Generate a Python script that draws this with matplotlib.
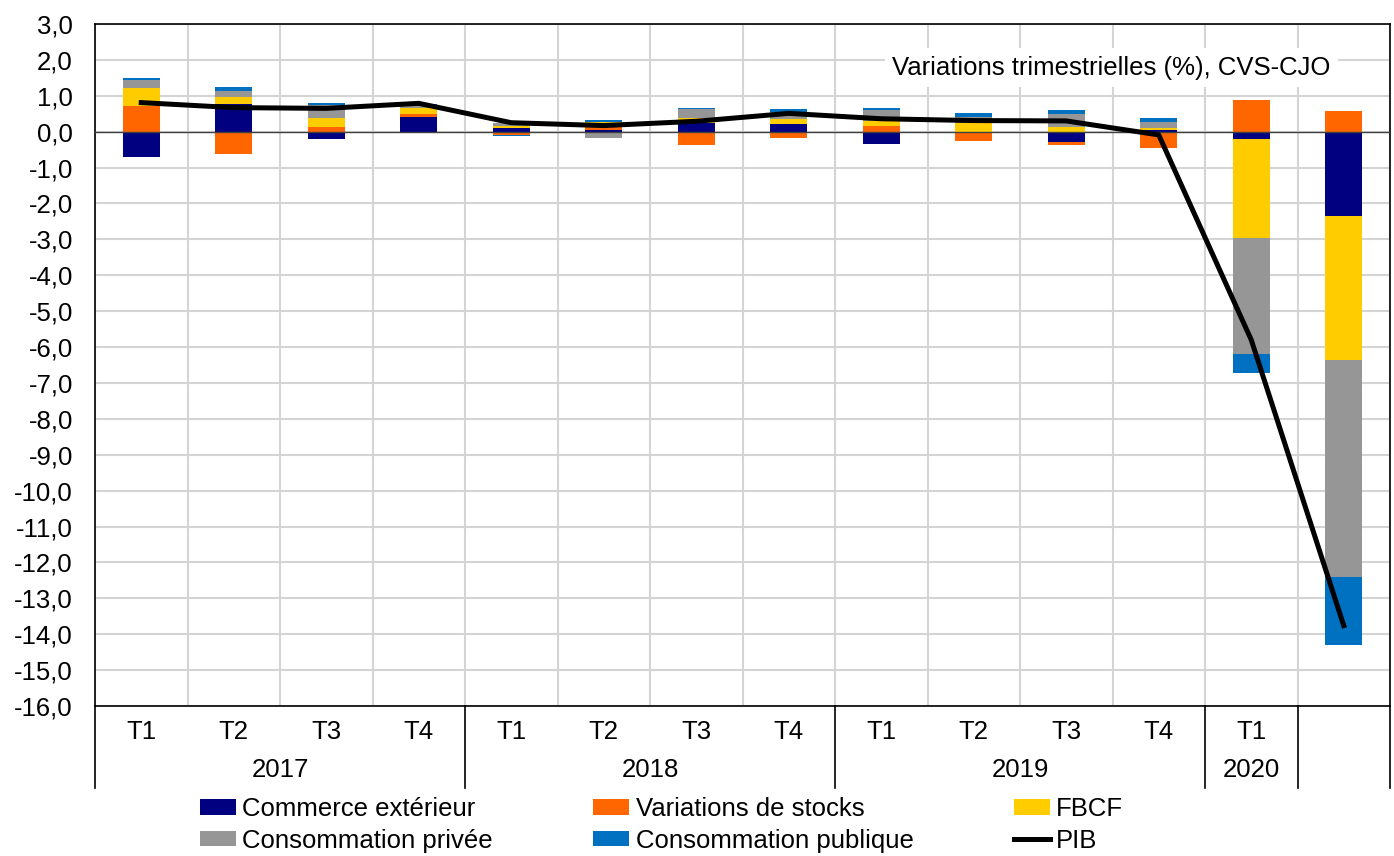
import matplotlib.pyplot as plt
import matplotlib.transforms as mtransforms
from matplotlib.patches import Patch
from matplotlib.lines import Line2D
import numpy as np

plt.rcParams['font.family'] = ['Liberation Sans', 'DejaVu Sans']

# données (contributions à la croissance, points de %)
trimestres = ['T1', 'T2', 'T3', 'T4', 'T1', 'T2', 'T3', 'T4',
              'T1', 'T2', 'T3', 'T4', 'T1', '']
annees = ['2017', '2018', '2019', '2020']
annees_nb = [4, 4, 4, 1]

commerce = [-0.70, 0.77, -0.19, 0.40, 0.10, 0.05, 0.23, 0.21, -0.35, 0.00, -0.28, 0.05, -0.19, -2.36]
stocks = [0.72, -0.63, 0.14, 0.09, -0.09, 0.07, -0.38, -0.18, 0.17, -0.26, -0.10, -0.46, 0.88, 0.57]
fbcf = [0.51, 0.20, 0.23, 0.16, 0.05, 0.15, 0.14, 0.13, 0.13, 0.23, 0.14, 0.04, -2.77, -4.01]
conso_privee = [0.22, 0.16, 0.37, 0.07, 0.10, -0.18, 0.26, 0.21, 0.30, 0.19, 0.34, 0.17, -3.22, -6.04]
conso_publique = [0.04, 0.12, 0.06, 0.05, -0.04, 0.05, 0.02, 0.09, 0.05, 0.11, 0.12, 0.11, -0.55, -1.88]
pib = [0.81, 0.67, 0.65, 0.79, 0.25, 0.17, 0.29, 0.51, 0.36, 0.31, 0.30, -0.09, -5.80, -13.76]

series = [
    ('Commerce extérieur', commerce, '#000080'),
    ('Variations de stocks', stocks, '#FF6600'),
    ('FBCF', fbcf, '#FFCC00'),
    ('Consommation privée', conso_privee, '#969696'),
    ('Consommation publique', conso_publique, '#0070C0'),
]

fs = 18.5
fig = plt.figure(figsize=(13.94, 8.56), dpi=100)
ax = fig.add_axes([95/1394, 1-706/856, 1295/1394, 682/856])

x = np.arange(len(trimestres))
pos = np.zeros(len(x))
neg = np.zeros(len(x))
for nom, vals, col in series:
    v = np.array(vals)
    bas = np.where(v >= 0, pos, neg)
    ax.bar(x, v, bottom=bas, width=0.4, color=col, zorder=2)
    pos = pos + np.where(v >= 0, v, 0)
    neg = neg + np.where(v < 0, v, 0)

ax.plot(x, pib, color='black', lw=3.6, zorder=4, solid_joinstyle='round')
ax.axhline(0, color='#404040', lw=1.0, zorder=3)

ax.set_xlim(-0.5, len(x) - 0.5)
ax.set_ylim(-16, 3)
ax.set_yticks(np.arange(-16, 3.5, 1))
ax.set_yticklabels([f'{v:.1f}'.replace('.', ',') for v in np.arange(-16, 3.5, 1)], fontsize=fs)
ax.set_xticks(x)
ax.set_xticklabels(trimestres, fontsize=fs)
ax.set_xticks(np.arange(-0.5, len(x), 1), minor=True)
ax.tick_params(axis='both', which='both', length=0)
ax.tick_params(axis='y', pad=16)
ax.tick_params(axis='x', pad=10)
ax.grid(axis='y', which='major', color='#d4d4d4', lw=1.5, zorder=0)
ax.grid(axis='x', which='minor', color='#d4d4d4', lw=1.5, zorder=0)
ax.set_axisbelow(True)
for s in ax.spines.values():
    s.set_color('black')
    s.set_linewidth(1.2)

# années et séparateurs sous l'axe
trans = mtransforms.blended_transform_factory(ax.transData, ax.transAxes)
debut = -0.5
for an, n in zip(annees, annees_nb):
    ax.text(debut + n / 2, -0.0945, an, transform=trans, ha='center', va='center', fontsize=fs)
    debut += n
for b in [-0.5, 3.5, 7.5, 11.5, 12.5, 13.5]:
    ax.plot([b, b], [0, -0.120], transform=trans, color='black', lw=1.2, clip_on=False)

ax.text(0.785, 0.936, 'Variations trimestrielles (%), CVS-CJO', transform=ax.transAxes,
        ha='center', va='center', fontsize=fs, zorder=5,
        bbox=dict(facecolor='white', edgecolor='none', boxstyle='square,pad=0.3'))

h = {nom: Patch(facecolor=col) for nom, _, col in series}
h['PIB'] = Line2D([0], [0], color='black', lw=3.6)
ordre = ['Commerce extérieur', 'Consommation privée', 'Variations de stocks',
         'Consommation publique', 'FBCF', 'PIB']
fig.legend([h[k] for k in ordre], ordre, ncol=3, loc='upper left',
           bbox_to_anchor=(200/1394, 1-797/856), frameon=False, fontsize=fs,
           handlelength=1.4, handleheight=0.55, handletextpad=0.25,
           columnspacing=3.9, labelspacing=0.3, borderpad=0, borderaxespad=0)

fig.savefig('out.png', dpi=100)
